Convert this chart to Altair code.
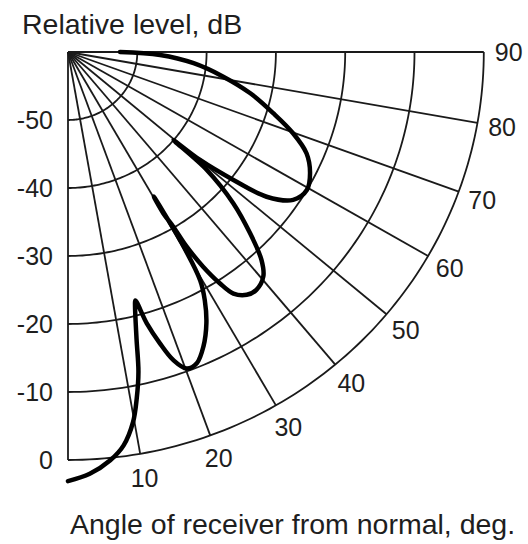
import altair as alt
import pandas as pd

# ---- data: directivity curve (angle from normal, deg / relative level, dB) ----
angle_deg = [0.0, 2.9, 5.8, 7.9, 9.8, 11.0, 12.2, 13.2, 14.55, 14.9,
             15.9, 17.2, 18.55, 20.2, 22.1, 24.3, 26.6, 28.4, 29.6, 30.3, 30.2,
             30.1, 30.6, 30.9, 31.7, 32.8, 33.9, 35.85, 37.85, 40.5, 42.4, 44.6, 47.0, 49.1, 49.6,
             50.2, 51.75, 53.4, 56.2, 59.5, 63.0, 66.6, 69.8, 73.1, 77.0, 80.8, 84.8, 88.1, 90.0]
level_db = [3.1, 2.1, 0.35, -1.6, -4.8, -8.05, -11.9, -16.7, -21.5, -22.2,
            -18.5, -15.15, -12.2, -10.4, -10.6, -12.5, -15.4, -18.5, -21.4, -28.0, -35.4,
            -32.6, -30.15, -26.6, -22.9, -19.5, -17.2, -15.95, -15.7, -16.6, -18.6, -22.6, -27.4, -33.5, -40.0,
            -35.2, -29.6, -24.3, -20.9, -20.0, -20.8, -22.5, -25.4, -29.05, -33.0, -37.3, -41.8, -46.7, -52.5]

level_ticks = [-50, -40, -30, -20, -10, 0]
angle_ticks = [0, 10, 20, 30, 40, 50, 60, 70, 80, 90]
angle_labels = ["10", "20", "30", "40", "50", "60", "70", "80", "90"]
FLOOR = -60

curve = pd.DataFrame({"angle": angle_deg, "level": level_db, "i": list(range(len(angle_deg)))})
arcs = pd.DataFrame([{"level": L, "angle": a} for L in level_ticks for a in range(0, 91)])
spokes = pd.DataFrame([{"angle": a, "level": L, "k": k}
                       for a in angle_ticks for k, L in enumerate([FLOOR, 0])])
lvl_lab = pd.DataFrame({"level": level_ticks, "label": [str(v) for v in level_ticks]})
ang_lab = pd.DataFrame({"angle": angle_ticks[1:], "label": angle_labels})

X = "(datum.level + 60) * sin(datum.angle * PI / 180)"
Y = "(datum.level + 60) * cos(datum.angle * PI / 180)"

xs = alt.Scale(domain=[-9.812, 66.378], nice=False, zero=False)
ys = alt.Scale(domain=[-7.647, 72.353], nice=False, zero=False, reverse=True)

def xy(ch):
    return ch.transform_calculate(px=X, py=Y)

xenc = alt.X("px:Q", scale=xs, axis=None)
yenc = alt.Y("py:Q", scale=ys, axis=None)

GRID = "#1a1a1a"
TXT = "#1e1e1e"
FONT = "Liberation Sans"

arc_layer = xy(alt.Chart(arcs)).mark_line(color=GRID, strokeWidth=1.8).encode(
    x=xenc, y=yenc, detail="level:N", order="angle:Q")

spoke_layer = xy(alt.Chart(spokes)).mark_line(color=GRID, strokeWidth=1.8).encode(
    x=xenc, y=yenc, detail="angle:N", order="k:Q")

curve_layer = xy(alt.Chart(curve)).mark_line(color="#000000", strokeWidth=4.5,
                                             strokeJoin="round", strokeCap="round",
                                             interpolate="catmull-rom").encode(
    x=xenc, y=yenc, order="i:Q")

lvl_layer = alt.Chart(lvl_lab).transform_calculate(px="0", py="datum.level + 60").mark_text(
    align="right", baseline="middle", dx=-15, dy=1, fontSize=25, font=FONT, color=TXT).encode(
    x=xenc, y=yenc, text="label:N")

ang_layer = alt.Chart(ang_lab).transform_calculate(
    px="63.6 * sin(datum.angle * PI / 180)", py="63.6 * cos(datum.angle * PI / 180)").mark_text(
    align="center", baseline="middle", dy=1, fontSize=25, font=FONT, color=TXT).encode(
    x=xenc, y=yenc, text="label:N")

title_top = alt.Chart(pd.DataFrame({"t": ["Relative level, dB"]})).mark_text(
    align="left", baseline="alphabetic", fontSize=28.5, font=FONT, color=TXT).encode(
    x=alt.value(22), y=alt.value(34), text="t:N")

title_bot = alt.Chart(pd.DataFrame({"t": ["Angle of receiver from normal, deg."]})).mark_text(
    align="left", baseline="alphabetic", fontSize=28.5, font=FONT, color=TXT).encode(
    x=alt.value(70), y=alt.value(534), text="t:N")

chart = alt.layer(arc_layer, spoke_layer, curve_layer, lvl_layer, ang_layer, title_top, title_bot).properties(
    width=528, height=544,
    autosize=alt.AutoSizeParams(type="none"),
    padding=0,
    background="white",
).configure_view(stroke=None)

chart.save("out.html", embed_options={"renderer": "svg", "actions": False})
